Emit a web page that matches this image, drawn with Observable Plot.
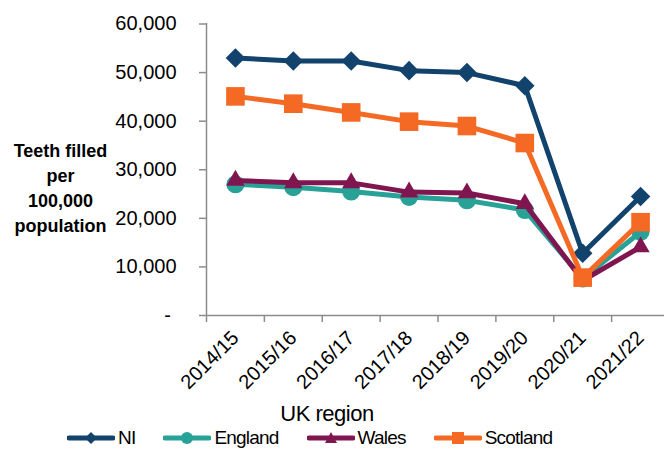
<!DOCTYPE html>
<html><head><meta charset="utf-8">
<script src="https://cdn.jsdelivr.net/npm/d3@7"></script>
<script src="https://cdn.jsdelivr.net/npm/@observablehq/plot@0.6"></script>
<style>
body{margin:0;background:#fff;font-family:"Liberation Sans",Arial,sans-serif;color:#000}
#wrap{width:664px;height:452px;position:relative;overflow:hidden}
#chart{position:absolute;left:0;top:0}
#xtitle{position:absolute;left:0;width:654px;top:402px;text-align:center;font-size:22px;letter-spacing:-0.5px;line-height:24px}
#legend{position:absolute;left:67px;top:426px;display:flex;align-items:center;font-size:19px;letter-spacing:-0.8px;line-height:24px}
.item{display:flex;align-items:center;margin-right:28px}
.item svg{margin-right:3px}
</style></head>
<body><div id="wrap"><div id="chart"></div><div id="xtitle">UK region</div><div id="legend"></div></div>
<script>
const years = ["2014/15","2015/16","2016/17","2017/18","2018/19","2019/20","2020/21","2021/22"];
const ni       = [53000, 52400, 52400, 50400, 50000, 47300, 12800, 24500];
const england  = [27000, 26400, 25500, 24400, 23700, 21700, 7600, 17200];
const wales    = [27800, 27300, 27300, 25400, 25200, 23000, 7200, 14100];
const scotland = [45100, 43600, 41800, 39900, 39000, 35500, 7800, 19200];
const yTicks = [0, 10000, 20000, 30000, 40000, 50000, 60000];
const yLabel = "Teeth filled\nper\n100,000\npopulation";

const series = [
  {name:"NI", values:ni, color:"#12436D", symbol:"diamond2", r:8.8},
  {name:"England", values:england, color:"#28A197", symbol:"circle", r:9},
  {name:"Wales", values:wales, color:"#801650", symbol:"triangle", r:6.8},
  {name:"Scotland", values:scotland, color:"#F46A25", symbol:"square", r:10.5}
];

const axisGrey = "#8c8c8c";
const marks = [
  Plot.ruleX([0], {stroke:axisGrey, strokeWidth:1.5}),
  Plot.ruleY([0], {stroke:axisGrey, strokeWidth:1.5}),
  Plot.axisY({ticks:yTicks, tickSize:7, tickPadding:23, stroke:axisGrey, strokeWidth:1.5, fill:"#000", fontSize:20,
    tickFormat:d => d === 0 ? "-\u00a0" : d3.format(",")(d), label:null}),
  Plot.axisX({ticks:d3.range(0, years.length + 1), tickSize:7, stroke:axisGrey, strokeWidth:1.5, tickFormat:() => "", label:null}),
  Plot.axisX({ticks:years.map((d,i) => i + 0.5), tickSize:0, tickPadding:19, tickRotate:-45, fill:"#000", fontSize:20,
    tickFormat:d => years[Math.round(d - 0.5)], label:null}),
  Plot.text([yLabel], {frameAnchor:"top-left", dx:-146, dy:163, text:d => d, fontSize:18, fontWeight:"bold",
    textAnchor:"middle", lineHeight:1.38, lineAnchor:"middle", fill:"#000"})
];
for (const s of series) {
  const data = s.values.map((v,i) => ({x:i + 0.5, y:v}));
  marks.push(Plot.line(data, {x:"x", y:"y", stroke:s.color, strokeWidth:5}));
  marks.push(Plot.dot(data, {x:"x", y:"y", symbol:() => s.symbol, fill:s.color, stroke:"none", r:s.r}));
}

const chart = Plot.plot({
  width:664, height:402,
  marginLeft:206, marginRight:0, marginTop:23, marginBottom:87,
  style:{fontFamily:"Liberation Sans, Arial, sans-serif", overflow:"visible"},
  x:{type:"linear", domain:[0, years.length], range:[206, 669]},
  y:{domain:[0, 60000], range:[315, 23.5]},
  symbol:{type:"identity"},
  marks
});
document.getElementById("chart").append(chart);

const legend = document.getElementById("legend");
const symPaths = {
  diamond2: "M0,-6L6,0L0,6L-6,0Z",
  circle: "M6,0A6,6 0 1,1 -6,0A6,6 0 1,1 6,0Z",
  triangle: "M0,-6L6,5L-6,5Z",
  square: "M-6,-6H6V6H-6Z"
};
for (const s of series) {
  const item = document.createElement("div");
  item.className = "item";
  item.innerHTML = `<svg width="48" height="16" viewBox="-24 -8 48 16"><line x1="-22" x2="22" y1="0" y2="0" stroke="${s.color}" stroke-width="5" stroke-linecap="round"/><path d="${symPaths[s.symbol]}" fill="${s.color}"/></svg><span>${s.name}</span>`;
  legend.append(item);
}
</script></body></html>
